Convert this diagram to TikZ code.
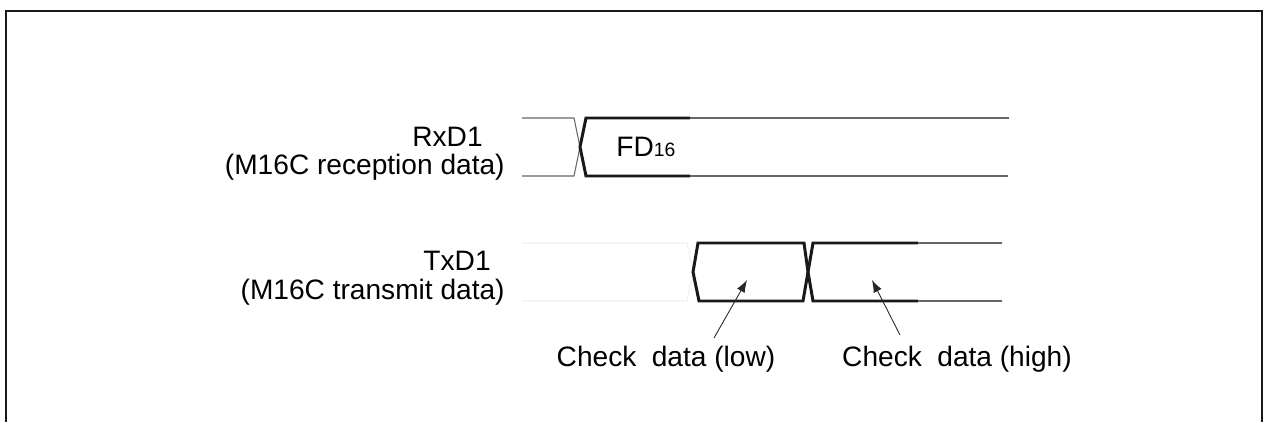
\documentclass[tikz,border=0pt]{standalone}
\usepackage{fontspec}
\setmainfont{Liberation Sans}
\usetikzlibrary{arrows.meta}

\begin{document}
\begin{tikzpicture}[
    x=0.02cm, y=-0.02cm,
    thinsig/.style={black!60, line width=0.6pt},
    faintsig/.style={black!6, line width=0.6pt},
    thicksig/.style={black!90, line width=1.7pt, line join=miter},
    framebox/.style={black!90, line width=1.4pt},
    lbl/.style={font=\fontsize{16}{19}\selectfont, inner sep=0pt},
    callout/.style={-{Latex[length=7pt, width=5pt]}, black!85, line width=0.5pt},
]
\useasboundingbox (0,0) rectangle (1264,422);

% Row y-coordinates
\def\rxT{118}
\def\rxM{147}
\def\rxB{176}
\def\txT{243}
\def\txM{272}
\def\txB{301}

% ====== FRAME ======
\draw[framebox] (6,422) -- (6,11) -- (1262,11) -- (1262,422);

% ====== RxD1 ======
\node[lbl, anchor=base east] (rxname) at (483,147) {RxD1};
\node[lbl, anchor=base east] (rxdesc) at (505,175) {(M16C reception data)};

\draw[thinsig] (522,\rxT) -- (574,\rxT) -- (580,\rxM) -- (574,\rxB) -- (522,\rxB);
\draw[thicksig] (690,\rxT) -- (586,\rxT) -- (580,\rxM) -- (586,\rxB) -- (690,\rxB);
\draw[thinsig] (690,\rxT) -- (1009,\rxT);
\draw[thinsig] (690,\rxB) -- (1008,\rxB);
\node[lbl, anchor=base west] (fd) at (616,157) {FD{\fontsize{11}{13}\selectfont 16}};

% ====== TxD1 ======
\node[lbl, anchor=base east] (txname) at (491,271) {TxD1};
\node[lbl, anchor=base east] (txdesc) at (505,299) {(M16C transmit data)};

\draw[faintsig] (522,\txT) -- (687,\txT) -- (693,\txM) -- (687,\txB) -- (522,\txB);
\draw[thicksig] (698,\txT) -- (804,\txT) -- (808,\txM) -- (803,\txB)
    -- (699,\txB) -- (693,\txM) -- cycle;
\draw[thicksig] (918,\txT) -- (813,\txT) -- (808,\txM) -- (813,\txB) -- (918,\txB);
\draw[thinsig] (918,\txT) -- (1002,\txT);
\draw[thinsig] (918,\txB) -- (1002,\txB);

% ====== Check data labels ======
\node[lbl, anchor=base] (lowlbl) at (666,366) {Check\hspace{0.55em}data (low)};
\node[lbl, anchor=base] (highlbl) at (957,366) {Check\hspace{0.55em}data (high)};

\coordinate (lowfoot) at (714,338);
\coordinate (lowtip) at (747,280);
\coordinate (highfoot) at (900,335);
\coordinate (hightip) at (872,280);
\draw[callout] (lowfoot) -- (lowtip);
\draw[callout] (highfoot) -- (hightip);

\end{tikzpicture}
\end{document}
